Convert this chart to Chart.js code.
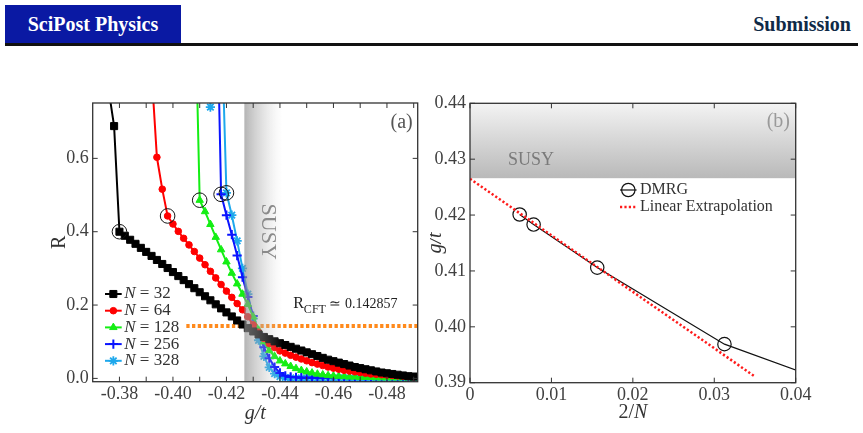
<!DOCTYPE html>
<html>
<head>
<meta charset="utf-8">
<script src="https://cdn.jsdelivr.net/npm/chart.js@4.4.1/dist/chart.umd.min.js"></script>
<style>
  body { margin: 0; background: #fff; width: 863px; height: 433px; position: relative; overflow: hidden; font-family: "Liberation Serif", serif; }
  .brand { position: absolute; left: 5px; top: 5px; width: 176px; height: 38px; background: #0a19a3; color: #fff; font-weight: bold; font-size: 20px; line-height: 38px; text-align: center; }
  .kind { position: absolute; right: 12px; top: 5px; line-height: 38px; font-size: 20px; font-weight: bold; color: #0f2a47; }
  .rule { position: absolute; left: 5px; right: 5px; top: 43px; height: 3px; background: #111; }
  canvas { position: absolute; top: 60px; }
</style>
</head>
<body>
<div class="brand">SciPost Physics</div>
<div class="kind">Submission</div>
<div class="rule"></div>
<canvas id="left" width="430" height="373" style="left:0"></canvas>
<canvas id="right" width="433" height="373" style="left:430px"></canvas>
<script>
// ---- panel (a): R versus g/t ----
const gridG = [
  -0.374, -0.376, -0.378, -0.380, -0.382, -0.384, -0.386, -0.388, -0.390, -0.392,
  -0.394, -0.396, -0.398, -0.400, -0.402, -0.404, -0.406, -0.408, -0.410, -0.412,
  -0.414, -0.416, -0.418, -0.420, -0.422, -0.424, -0.426, -0.428, -0.430, -0.432,
  -0.434, -0.436, -0.438, -0.440, -0.442, -0.444, -0.446, -0.448, -0.450, -0.452,
  -0.454, -0.456, -0.458, -0.460, -0.462, -0.464, -0.466, -0.468, -0.470, -0.472,
  -0.474, -0.476, -0.478, -0.480, -0.482, -0.484, -0.486, -0.488, -0.490
];
const sizes = ["32", "64", "128", "256", "328"];
const R32 = [
  null, 0.785, 0.688, 0.400, 0.389, 0.378, 0.367, 0.356, 0.345, 0.334,
  0.323, 0.312, 0.301, 0.290, 0.279, 0.268, 0.257, 0.246, 0.235, 0.224,
  0.213, 0.202, 0.191, 0.180, 0.169, 0.158, 0.147, 0.137, 0.128, 0.120,
  0.113, 0.107, 0.101, 0.096, 0.091, 0.086, 0.081, 0.076, 0.071, 0.066,
  0.061, 0.056, 0.051, 0.047, 0.043, 0.039, 0.035, 0.031, 0.028, 0.025,
  0.022, 0.019, 0.016, 0.014, 0.012, 0.010, 0.008, 0.006, 0.005
];
const R64 = [
  null, null, null, null, null, null, null, null, null, 0.838,
  0.603, 0.516, 0.443, 0.421, 0.401, 0.382, 0.364, 0.346, 0.328, 0.310,
  0.292, 0.274, 0.256, 0.238, 0.221, 0.204, 0.187, 0.168, 0.146, 0.126,
  0.109, 0.095, 0.084, 0.075, 0.069, 0.063, 0.058, 0.053, 0.048, 0.043,
  0.039, 0.035, 0.031, 0.028, 0.025, 0.022, 0.020, 0.018, 0.016, 0.014,
  0.012, 0.011, 0.010, 0.009, 0.008, 0.007, 0.006, 0.005, 0.004
];
const R128 = [
  null, null, null, null, null, null, null, null, null, null,
  null, null, null, null, null, null, null, 1.12, 0.486, 0.455,
  0.420, 0.385, 0.351, 0.318, 0.287, 0.258, 0.230, 0.202, 0.168, 0.132,
  0.100, 0.076, 0.060, 0.048, 0.040, 0.033, 0.027, 0.022, 0.018, 0.015,
  0.012, 0.010, 0.008, 0.007, 0.006, 0.005, 0.004, 0.004, 0.003, 0.003,
  0.003, 0.002, 0.002, 0.002, 0.002, 0.002, 0.002, 0.002, 0.002
];
const R256 = [
  null, null, null, null, null, null, null, null, null, null,
  null, null, null, null, null, null, null, null, null, null,
  null, 1.20, 0.502, 0.445, 0.392, 0.335, 0.276, 0.222, 0.170, 0.123,
  0.085, 0.055, 0.031, 0.015, 0.007, 0.004, 0.003, 0.002, 0.002, 0.002,
  0.002, 0.002, 0.001, 0.001, 0.001, 0.001, 0.001, 0.001, 0.001, 0.001,
  0.001, 0.001, 0.001, 0.001, 0.001, 0.001, 0.001, 0.001, 0.001
];
const R328 = [
  null, null, null, null, null, null, null, null, null, null,
  null, null, null, null, null, null, null, null, null, null,
  0.740, 1.60, 1.01, 0.506, 0.445, 0.375, 0.300, 0.230, 0.163, 0.104,
  0.060, 0.030, 0.013, 0.005, 0.002, 0.001, 0.001, 0.001, 0.001, 0.001,
  0.001, 0.001, 0.001, 0.001, 0.001, 0.001, 0.001, 0.001, 0.001, 0.001,
  0.001, 0.001, 0.001, 0.001, 0.001, 0.001, 0.001, 0.001, 0.001
];
// circled points (largest R before the drop) for each N
const markG = [-0.380, -0.398, -0.410, -0.418, -0.420];
const markR = [0.400, 0.443, 0.486, 0.502, 0.506];
const cftValue = 0.142857;
const cftG = [-0.405, -0.495];
const susyBandG = [-0.4267, -0.4410];
const leftXTicks = [-0.38, -0.39, -0.40, -0.41, -0.42, -0.43, -0.44, -0.45, -0.46, -0.47, -0.48, -0.49];
const leftXLabelled = [-0.38, -0.40, -0.42, -0.44, -0.46, -0.48];
const leftYTicks = [0.0, 0.2, 0.4, 0.6];

// ---- panel (b): critical g/t versus 2/N ----
const invN = [0.0625, 0.03125, 0.015625, 0.0078125, 0.0060976];
const gCrit = [0.3803, 0.3969, 0.4106, 0.4183, 0.4201];
const extrapX = [0, 0.035];
const extrapG = [0.4265, 0.3911];
const susyEdge = 0.4266;
const rightXTicks = [0, 0.01, 0.02, 0.03, 0.04];
const rightYTicks = [0.39, 0.40, 0.41, 0.42, 0.43, 0.44];

const serif = '"Liberation Serif", "Times New Roman", serif';
const ink = "#404040";
const colors = ["#000000", "#ff0000", "#14ee14", "#0a14ff", "#1ea8ec"];
const styles = ["rect", "circle", "triangle", "cross", "star"];
const radii = [5, 3.3, 4.3, 4.6, 4.6];
const pointWidths = [1, 1, 1, 2, 1.8];

function drawRuns(ctx, parts, x, y, align) {
  let w = 0;
  parts.forEach(([t, f]) => { ctx.font = f; w += ctx.measureText(t).width; });
  let cx = align === "center" ? x - w / 2 : align === "right" ? x - w : x;
  ctx.textAlign = "left";
  parts.forEach(([t, f, dy]) => {
    ctx.font = f;
    ctx.fillText(t, cx, y + (dy || 0));
    cx += ctx.measureText(t).width;
  });
}

function drawFrame(chart, xTicks, yTicks) {
  const { ctx, chartArea: a, scales: { x, y } } = chart;
  ctx.save();
  ctx.strokeStyle = "#333";
  ctx.lineWidth = 1.3;
  ctx.strokeRect(a.left, a.top, a.right - a.left, a.bottom - a.top);
  ctx.lineWidth = 1;
  ctx.beginPath();
  xTicks.forEach((v) => {
    const px = x.getPixelForValue(v);
    ctx.moveTo(px, a.bottom); ctx.lineTo(px, a.bottom - 5);
    ctx.moveTo(px, a.top); ctx.lineTo(px, a.top + 5);
  });
  yTicks.forEach((v) => {
    const py = y.getPixelForValue(v);
    ctx.moveTo(a.left, py); ctx.lineTo(a.left + 5, py);
    ctx.moveTo(a.right, py); ctx.lineTo(a.right - 5, py);
  });
  ctx.stroke();
  ctx.restore();
}

const curves = [R32, R64, R128, R256, R328].map((vals, k) => ({
  label: "N = " + sizes[k],
  data: gridG.map((g, i) => ({ x: g, y: vals[i] })),
  borderColor: colors[k],
  backgroundColor: colors[k],
  pointBackgroundColor: colors[k],
  pointBorderColor: colors[k],
  pointStyle: styles[k],
  pointRadius: radii[k],
  pointBorderWidth: pointWidths[k],
  borderWidth: 2,
  order: k + 1,
}));

const leftDecor = {
  id: "leftDecor",
  afterDatasetsDraw(chart) {
    const { ctx, chartArea: a, scales: { x, y } } = chart;
    const x0 = x.getPixelForValue(susyBandG[0]);
    const x1 = x.getPixelForValue(susyBandG[1]);
    const grad = ctx.createLinearGradient(x0, 0, x1, 0);
    grad.addColorStop(0, "rgba(145,145,145,0.68)");
    grad.addColorStop(0.5, "rgba(175,175,175,0.35)");
    grad.addColorStop(1, "rgba(210,210,210,0)");
    ctx.save();
    ctx.fillStyle = grad;
    ctx.fillRect(x0, a.top, x1 - x0, a.bottom - a.top);
    // rotated SUSY label
    ctx.translate(x.getPixelForValue(-0.4355), y.getPixelForValue(0.40));
    ctx.rotate(Math.PI / 2);
    ctx.fillStyle = "#8a8a8a";
    ctx.textBaseline = "middle";
    ctx.textAlign = "center";
    ctx.font = "22px " + serif;
    ctx.fillText("SUSY", 0, 0);
    ctx.restore();
  },
  afterDraw(chart) {
    const { ctx, chartArea: a } = chart;
    drawFrame(chart, leftXTicks, leftYTicks);
    ctx.save();
    ctx.fillStyle = "#555";
    ctx.textBaseline = "middle";
    drawRuns(ctx, [["(a)", "20px " + serif]], a.right - 5, a.top + 20, "right");
    // R_CFT annotation
    ctx.fillStyle = "#222";
    ctx.textBaseline = "alphabetic";
    drawRuns(ctx, [["R", "16px " + serif], ["CFT", "12px " + serif, 5], [" \u2243 0.142857", "14px " + serif]],
      a.left + 200.5, a.top + 204.5, "left");
    // axis titles
    ctx.fillStyle = "#333";
    ctx.textBaseline = "middle";
    drawRuns(ctx, [["g/t", "italic 20px " + serif]], (a.left + a.right) / 2, a.bottom + 32, "center");
    ctx.save();
    ctx.translate(a.left - 33, (a.top + a.bottom) / 2);
    ctx.rotate(-Math.PI / 2);
    drawRuns(ctx, [["R", "20px " + serif]], 0, 0, "center");
    ctx.restore();
    // legend
    const lx0 = a.left + 12.3, lx1 = a.left + 29;
    curves.forEach((d, k) => {
      const yy = a.top + 191 + k * 16.7;
      ctx.strokeStyle = d.borderColor;
      ctx.lineWidth = 2;
      ctx.beginPath(); ctx.moveTo(lx0, yy); ctx.lineTo(lx1, yy); ctx.stroke();
      ctx.fillStyle = d.pointBackgroundColor;
      ctx.lineWidth = d.pointBorderWidth;
      Chart.helpers.drawPoint(ctx, { pointStyle: d.pointStyle, radius: d.pointRadius, borderWidth: d.pointBorderWidth, rotation: 0 }, (lx0 + lx1) / 2, yy);
      ctx.fillStyle = "#333";
      drawRuns(ctx, [["N", "italic 17px " + serif], [" = " + sizes[k], "17px " + serif]], lx1 + 2.5, yy, "left");
    });
    ctx.restore();
  },
};

new Chart(document.getElementById("left"), {
  type: "line",
  data: {
    datasets: [
      ...curves,
      {
        label: "critical",
        data: markG.map((g, i) => ({ x: g, y: markR[i] })),
        showLine: false,
        pointStyle: "circle",
        pointRadius: 7.3,
        pointBackgroundColor: "rgba(0,0,0,0)",
        pointBorderColor: "#111",
        pointBorderWidth: 1,
        order: 0,
      },
      {
        label: "R_CFT",
        data: cftG.map((g) => ({ x: g, y: cftValue })),
        borderColor: "#ff8a1c",
        borderWidth: 4,
        borderDash: [3.3, 2.4],
        pointRadius: 0,
        order: 10,
      },
    ],
  },
  options: {
    responsive: false,
    animation: false,
    devicePixelRatio: 1,
    events: [],
    layout: { padding: { top: 43, right: 12.3, left: 0, bottom: 0 } },
    elements: { line: { tension: 0 } },
    scales: {
      x: {
        type: "linear",
        reverse: true,
        min: -0.4915,
        max: -0.37,
        grid: { display: false, drawTicks: false },
        border: { display: false },
        afterBuildTicks: (s) => { s.ticks = leftXLabelled.map((v) => ({ value: v })); },
        afterFit: (s) => { s.height = 51.3; },
        ticks: { autoSkip: false, maxRotation: 0, padding: 2, color: ink, font: { family: serif, size: 18 }, callback: (v) => v.toFixed(2) },
      },
      y: {
        type: "linear",
        min: -0.009,
        max: 0.751,
        grid: { display: false, drawTicks: false },
        border: { display: false },
        afterBuildTicks: (s) => { s.ticks = leftYTicks.map((v) => ({ value: v })); },
        afterFit: (s) => { s.width = 92.7; },
        ticks: { padding: 4, color: ink, font: { family: serif, size: 18 }, callback: (v) => v.toFixed(1) },
      },
    },
    plugins: { legend: { display: false }, tooltip: { enabled: false } },
  },
  plugins: [leftDecor],
});

const rightDecor = {
  id: "rightDecor",
  beforeDatasetsDraw(chart) {
    const { ctx, chartArea: a, scales: { y } } = chart;
    const y0 = y.getPixelForValue(0.44);
    const y1 = y.getPixelForValue(susyEdge);
    const grad = ctx.createLinearGradient(0, y0, 0, y1);
    grad.addColorStop(0, "#f3f3f3");
    grad.addColorStop(1, "#b9b9b9");
    ctx.save();
    ctx.fillStyle = grad;
    ctx.fillRect(a.left, y0, a.right - a.left, y1 - y0);
    ctx.fillStyle = "#7a7a7a";
    ctx.textBaseline = "middle";
    drawRuns(ctx, [["SUSY", "18px " + serif]], a.left + 61, a.top + 56.7, "center");
    ctx.fillStyle = "#9a9a9a";
    drawRuns(ctx, [["(b)", "20px " + serif]], a.right - 5.7, a.top + 18.4, "right");
    ctx.restore();
  },
  afterDraw(chart) {
    const { ctx, chartArea: a } = chart;
    drawFrame(chart, rightXTicks, rightYTicks);
    ctx.save();
    ctx.fillStyle = "#333";
    ctx.textBaseline = "middle";
    drawRuns(ctx, [["2/", "20px " + serif], ["N", "italic 20px " + serif]], (a.left + a.right) / 2, a.bottom + 30.3, "center");
    ctx.save();
    ctx.translate(a.left - 34, (a.top + a.bottom) / 2);
    ctx.rotate(-Math.PI / 2);
    drawRuns(ctx, [["g/t", "italic 20px " + serif]], 0, 0, "center");
    ctx.restore();
    // legend
    const lx = a.left + 158.3, ly = a.top + 86.7;
    ctx.strokeStyle = "#111";
    ctx.lineWidth = 1.2;
    ctx.beginPath(); ctx.moveTo(lx - 8.3, ly); ctx.lineTo(lx + 8.3, ly); ctx.stroke();
    ctx.beginPath(); ctx.arc(lx, ly, 6.7, 0, Math.PI * 2); ctx.stroke();
    ctx.strokeStyle = "#ff1a1a";
    ctx.lineWidth = 2.5;
    ctx.setLineDash([2.2, 2.2]);
    ctx.beginPath(); ctx.moveTo(lx - 8.3, ly + 17); ctx.lineTo(lx + 7, ly + 17); ctx.stroke();
    ctx.setLineDash([]);
    ctx.fillStyle = "#333";
    drawRuns(ctx, [["DMRG", "16px " + serif]], lx + 11.7, ly, "left");
    drawRuns(ctx, [["Linear Extrapolation", "16px " + serif]], lx + 11.7, ly + 17, "left");
    ctx.restore();
  },
};

new Chart(document.getElementById("right"), {
  type: "line",
  data: {
    datasets: [
      {
        label: "Linear Extrapolation",
        data: extrapX.map((v, i) => ({ x: v, y: extrapG[i] })),
        borderColor: "#ff1a1a",
        borderWidth: 2.5,
        borderDash: [2.2, 2.2],
        pointRadius: 0,
        order: 0,
      },
      {
        label: "DMRG",
        data: invN.map((v, i) => ({ x: v, y: gCrit[i] })),
        borderColor: "#111",
        borderWidth: 1.2,
        pointStyle: "circle",
        pointRadius: 6.7,
        pointBackgroundColor: "rgba(0,0,0,0)",
        pointBorderColor: "#111",
        pointBorderWidth: 1.2,
        order: 1,
      },
    ],
  },
  options: {
    responsive: false,
    animation: false,
    devicePixelRatio: 1,
    events: [],
    layout: { padding: { top: 43.3, right: 67.3, left: 0, bottom: 0 } },
    elements: { line: { tension: 0 } },
    scales: {
      x: {
        type: "linear",
        min: 0,
        max: 0.04,
        grid: { display: false, drawTicks: false },
        border: { display: false },
        afterBuildTicks: (s) => { s.ticks = rightXTicks.map((v) => ({ value: v })); },
        afterFit: (s) => { s.height = 50.3; },
        ticks: { autoSkip: false, maxRotation: 0, padding: 2, color: ink, font: { family: serif, size: 18 }, callback: (v) => (v === 0 ? "0" : v.toFixed(2)) },
      },
      y: {
        type: "linear",
        min: 0.39,
        max: 0.44,
        grid: { display: false, drawTicks: false },
        border: { display: false },
        afterBuildTicks: (s) => { s.ticks = rightYTicks.map((v) => ({ value: v })); },
        afterFit: (s) => { s.width = 40; },
        ticks: { padding: 4, color: ink, font: { family: serif, size: 18 }, callback: (v) => v.toFixed(2) },
      },
    },
    plugins: { legend: { display: false }, tooltip: { enabled: false } },
  },
  plugins: [rightDecor],
});
</script>
</body>
</html>
